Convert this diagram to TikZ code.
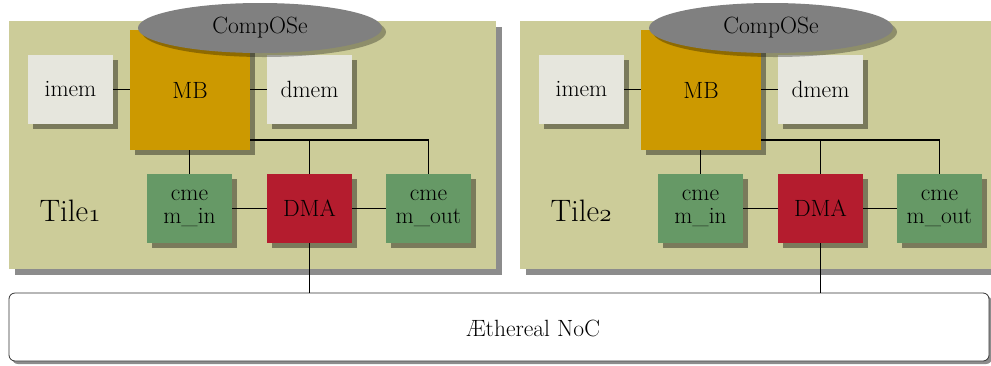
\documentclass[tikz,border=0pt]{standalone}
\usepackage{fontspec}
\usetikzlibrary{shadows,shapes.geometric}
\definecolor{tilec}{RGB}{204,204,153}
\definecolor{mbc}{RGB}{204,153,0}
\definecolor{memc}{RGB}{230,230,221}
\definecolor{cmc}{RGB}{102,153,102}
\definecolor{dmac}{RGB}{180,28,46}
\definecolor{osc}{RGB}{128,128,128}
\begin{document}
\begin{tikzpicture}[x=1pt,y=-1pt,
  font=\fontsize{23.5}{27}\selectfont,
  shad/.style={drop shadow={shadow xshift=5pt,shadow yshift=-5pt,fill=black,opacity=0.4}},
  blk/.style={shad,inner sep=0pt,align=center,minimum width=85pt,minimum height=69pt},
  memb/.style={blk,fill=memc},
  cmb/.style={blk,fill=cmc},
  dmab/.style={blk,fill=dmac},
  mbb/.style={shad,fill=mbc,minimum width=120pt,minimum height=120pt,inner sep=0pt},
  tileb/.style={drop shadow={shadow xshift=6pt,shadow yshift=-6pt,fill=black,opacity=0.45},fill=tilec,minimum width=487pt,minimum height=248pt,inner sep=0pt},
  osb/.style={ellipse,fill=osc,minimum width=244pt,minimum height=50pt,inner sep=0pt,
    drop shadow={shadow xshift=4pt,shadow yshift=-4pt,fill=black,opacity=0.3}},
  nocb/.style={draw=black!80,line width=0.8pt,rounded corners=6pt,fill=white,minimum width=980pt,minimum height=68pt,inner sep=0pt,
    drop shadow={shadow xshift=3pt,shadow yshift=-3pt,fill=black,opacity=0.45}},
  wire/.style={line width=1.5pt,black}]
\useasboundingbox (0,0) rectangle (991,365);
\node[nocb] (noc) at (499,327) {};
\node (nocl) at (533,328) {Æthereal NoC};
\foreach \o/\n in {0/1,511/2}{
  \node[tileb] (tile\n) at (252.5+\o,145) {};
  \node (tl\n) at (70+\o,211) {\fontsize{31}{34}\selectfont Tile{\usefont{OML}{cmm}{m}{it}\n}};
  \node[mbb] (mb\n) at (190+\o,90) {MB};
  \node[memb] (im\n) at (70.5+\o,89.5) {imem};
  \node[memb] (dm\n) at (309.5+\o,89.5) {dmem};
  \node[cmb] (ci\n) at (189.5+\o,208.5) {cme\\[-4pt]m\_in};
  \node[dmab] (dma\n) at (309.5+\o,208.5) {DMA};
  \node[cmb] (co\n) at (428.5+\o,208.5) {cme\\[-4pt]m\_out};
  \node[osb] (os\n) at (260+\o,28) {CompOSe};
  \coordinate (br\n) at ([yshift=10pt]mb\n.south east);
  \draw[wire] (im\n.east) -- (mb\n.west |- im\n.east);
  \draw[wire] (dm\n.west) -- (mb\n.east |- dm\n.west);
  \draw[wire] (mb\n.south -| ci\n.north) -- (ci\n.north);
  \draw[wire] (br\n) -| (co\n.north);
  \draw[wire] (dma\n.north) -- (dma\n.north |- br\n);
  \draw[wire] (ci\n.east) -- (dma\n.west);
  \draw[wire] (dma\n.east) -- (co\n.west);
  \draw[wire] (dma\n.south) -- (dma\n.south |- noc.north);
}
\end{tikzpicture}
\end{document}
